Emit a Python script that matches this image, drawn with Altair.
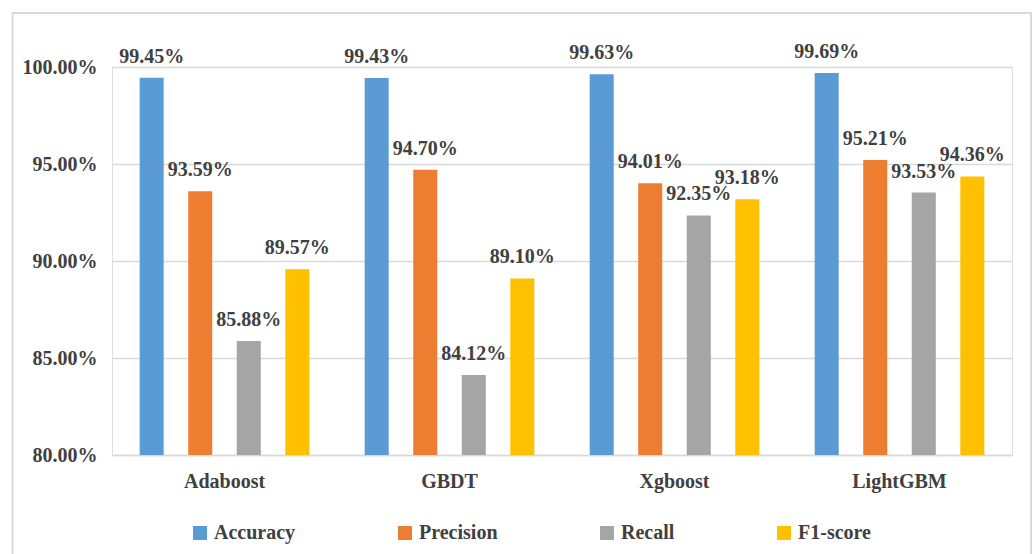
import altair as alt
import pandas as pd

models = ["Adaboost", "GBDT", "Xgboost", "LightGBM"]
metrics = ["Accuracy", "Precision", "Recall", "F1-score"]
accuracy = [99.45, 99.43, 99.63, 99.69]
precision = [93.59, 94.70, 94.01, 95.21]
recall = [85.88, 84.12, 92.35, 93.53]
f1 = [89.57, 89.10, 93.18, 94.36]
colors = ["#5B9BD5", "#ED7D31", "#A5A5A5", "#FFC000"]
y_ticks = [0.80, 0.85, 0.90, 0.95, 1.00]

rows = []
for series_name, vals in zip(metrics, [accuracy, precision, recall, f1]):
    for m, v in zip(models, vals):
        rows.append({"model": m, "metric": series_name, "value": v / 100.0,
                     "label": f"{v:.2f}%"})
df = pd.DataFrame(rows)

FONT = "Times New Roman, Liberation Serif, serif"
TXT = "#404040"

x_enc = alt.X("model:N", sort=models, title=None,
              scale=alt.Scale(paddingInner=0, paddingOuter=0),
              axis=alt.Axis(labelAngle=0, ticks=False, domainColor="#d9d9d9",
                            domainWidth=1.5, labelFont=FONT, labelFontSize=20,
                            labelFontWeight="bold", labelColor=TXT, labelPadding=16))
xo_enc = alt.XOffset("metric:N", sort=metrics,
                     scale=alt.Scale(paddingInner=0.505, paddingOuter=0.57))
y_enc = alt.Y("value:Q", title=None,
              scale=alt.Scale(domain=[0.8, 1.0], zero=False, nice=False, clamp=True),
              axis=alt.Axis(values=y_ticks, format=".2%", ticks=False, domain=False,
                            gridColor="#d9d9d9", gridWidth=1.5, labelFont=FONT,
                            labelFontSize=20, labelFontWeight="bold", labelColor=TXT,
                            labelPadding=15))

bars = alt.Chart(df).mark_bar().encode(
    x=x_enc,
    xOffset=xo_enc,
    y=y_enc,
    y2=alt.datum(0.8),
    color=alt.Color("metric:N", sort=metrics,
                    scale=alt.Scale(domain=metrics, range=colors),
                    legend=alt.Legend(title=None, orient="none", direction="horizontal",
                                      columns=4, legendX=78, legendY=456,
                                      symbolType="square", symbolSize=196,
                                      symbolStrokeWidth=0, labelFont=FONT,
                                      labelFontSize=20, labelFontWeight="bold",
                                      labelColor=TXT, labelOffset=4,
                                      columnPadding=99)),
)

labels = alt.Chart(df).mark_text(font=FONT, fontSize=20, fontWeight="bold",
                                 color=TXT, baseline="alphabetic", dy=-15).encode(
    x=alt.X("model:N", sort=models),
    xOffset=alt.XOffset("metric:N", sort=metrics),
    y=alt.Y("value:Q"),
    text="label:N",
)

frame = alt.Chart(pd.DataFrame({"a": [0]})).mark_rect(
    fill=None, stroke="#d9d9d9", strokeWidth=2).encode(
    x=alt.value(-99.5), x2=alt.value(919), y=alt.value(-54), y2=alt.value(500))

chart = alt.layer(frame, bars, labels).properties(
    width=900, height=388,
    autosize=alt.AutoSizeParams(type="none"),
    padding={"left": 112, "top": 67, "right": 21, "bottom": 99},
).configure_view(stroke=None).configure(background="white")

chart.save("out.html", embed_options={"renderer": "svg", "actions": False})
